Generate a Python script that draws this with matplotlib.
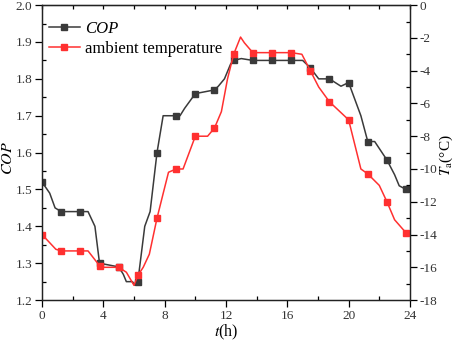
import numpy as np
import matplotlib
matplotlib.use('Agg')
import matplotlib.pyplot as plt
from matplotlib.ticker import MultipleLocator, FormatStrFormatter

plt.rcParams['font.family'] = ['Liberation Serif', 'DejaVu Serif']
plt.rcParams['mathtext.fontset'] = 'stix'
plt.rcParams['axes.unicode_minus'] = False

# COP curve (time in h, value)
cop_t = [0, 0.5, 0.85, 1.25, 2.5, 3.0, 3.45, 3.75, 5.0, 5.3, 5.5, 5.9, 6.05, 6.25,
         6.7, 7.05, 7.5, 7.9, 8.75, 9.0, 9.3, 10.0, 11.25, 11.5, 11.9, 12.3, 12.5,
         13.0, 13.75, 15.0, 16.25, 17.0, 17.5, 18.05, 18.75, 19.5, 20.0, 20.8,
         21.25, 21.7, 22.5, 23.0, 23.3, 23.75]
cop_v = [1.52, 1.49, 1.45, 1.44, 1.44, 1.44, 1.40, 1.30, 1.29, 1.27, 1.25, 1.25, 1.24, 1.25,
         1.40, 1.44, 1.60, 1.70, 1.70, 1.70, 1.72, 1.76, 1.77, 1.78, 1.80, 1.84, 1.85,
         1.855, 1.85, 1.85, 1.85, 1.85, 1.83, 1.80, 1.80, 1.78, 1.79, 1.70,
         1.63, 1.63, 1.58, 1.54, 1.51, 1.50]

# ambient temperature curve (time in h, degC)
temp_t = [0, 0.5, 0.9, 1.25, 2.5, 3.0, 3.75, 3.9, 5.0, 5.5, 6.0, 6.25, 6.6, 7.0,
          7.5, 7.9, 8.25, 8.75, 9.2, 10.0, 10.8, 11.25, 11.7, 12.1, 12.5, 12.95,
          13.2, 13.75, 15.0, 16.25, 16.95, 17.5, 18.05, 18.75, 20.0, 20.8, 21.25,
          22.0, 22.5, 23.0, 23.75]
temp_v = [-14.0, -14.5, -14.9, -15.0, -15.0, -15.0, -15.9, -16.0, -16.0, -16.3, -17.1, -16.5,
          -16.0, -15.2, -13.0, -11.5, -10.2, -10.0, -10.0, -8.0, -8.0, -7.5, -6.5, -4.5,
          -3.0, -1.95, -2.3, -2.9, -2.9, -2.9, -3.0, -4.0, -5.0, -5.9, -7.0, -10.0,
          -10.3, -11.0, -12.0, -13.1, -13.9]

marker_t = [0, 1.25, 2.5, 3.75, 5.0, 6.25, 7.5, 8.75, 10.0, 11.25, 12.5, 13.75, 15.0,
            16.25, 17.5, 18.75, 20.0, 21.25, 22.5, 23.75]

black = '#3a3a3a'
red = '#ff3030'
grey = '#333333'

fig = plt.figure(figsize=(4.57, 3.41), dpi=100)
ax = fig.add_axes([0.092, 0.12, 0.805, 0.865])
ax2 = ax.twinx()

cop_mask = np.isin(cop_t, marker_t)
temp_mask = np.isin(temp_t, marker_t)

l1, = ax.plot(cop_t, cop_v, color=black, lw=1.1)
ax.plot(np.array(cop_t)[cop_mask], np.array(cop_v)[cop_mask], 's', color=black, ms=4.5)
l2, = ax2.plot(temp_t, temp_v, color=red, lw=1.1)
ax2.plot(np.array(temp_t)[temp_mask], np.array(temp_v)[temp_mask], 's', color=red, ms=4.5)

ax.set_xlim(0, 24)
ax.set_ylim(1.2, 2.0)
ax2.set_ylim(-18, 0)

ax.xaxis.set_major_locator(MultipleLocator(4))
ax.xaxis.set_minor_locator(MultipleLocator(2))
ax.yaxis.set_major_locator(MultipleLocator(0.1))
ax.yaxis.set_minor_locator(MultipleLocator(0.05))
ax2.yaxis.set_major_locator(MultipleLocator(2))
ax2.yaxis.set_minor_locator(MultipleLocator(1))
ax.yaxis.set_major_formatter(FormatStrFormatter('%.1f'))

ax.tick_params(which='major', direction='out', length=5, width=0.9, labelsize=9.5,
               labelcolor=grey, pad=2, top=False)
ax.tick_params(which='minor', direction='in', length=3, width=0.9, top=False)
ax2.tick_params(which='major', direction='out', length=5, width=0.9, labelsize=9.5,
                labelcolor=grey, pad=2)
ax2.tick_params(which='minor', direction='in', length=3, width=0.9)

# top axis ticks (inward, every 2 h)
sec = ax.secondary_xaxis('top')
sec.set_xticks(np.arange(0, 25, 2))
sec.tick_params(direction='in', length=3, width=0.9, labeltop=False)

for a in (ax, ax2):
    for s in a.spines.values():
        s.set_linewidth(0.9)
        s.set_color('#222222')

ax.set_xlabel(r'$t$(h)', fontsize=11.5, labelpad=1)
ax.set_ylabel(r'$COP$', fontsize=11.5, labelpad=1)
ax2.set_ylabel(r'$T_\mathrm{a}$(°C)', fontsize=11, labelpad=1)
ax.yaxis.set_label_coords(-0.072, 0.48)
ax2.yaxis.set_label_coords(1.076, 0.49)

leg = ax.legend([l1, l2], ['COP', 'ambient temperature'], loc='upper left',
                bbox_to_anchor=(-0.005, 0.975), frameon=False, fontsize=12,
                handlelength=1.9, borderaxespad=0.1, handletextpad=0.3,
                labelspacing=0.25)
leg.get_texts()[0].set_style('italic')
# put markers on legend handles
for h in leg.legend_handles:
    h.set_marker('s')
    h.set_markersize(4.5)
    h.set_markevery([1])

fig.savefig('out.png', dpi=100)
